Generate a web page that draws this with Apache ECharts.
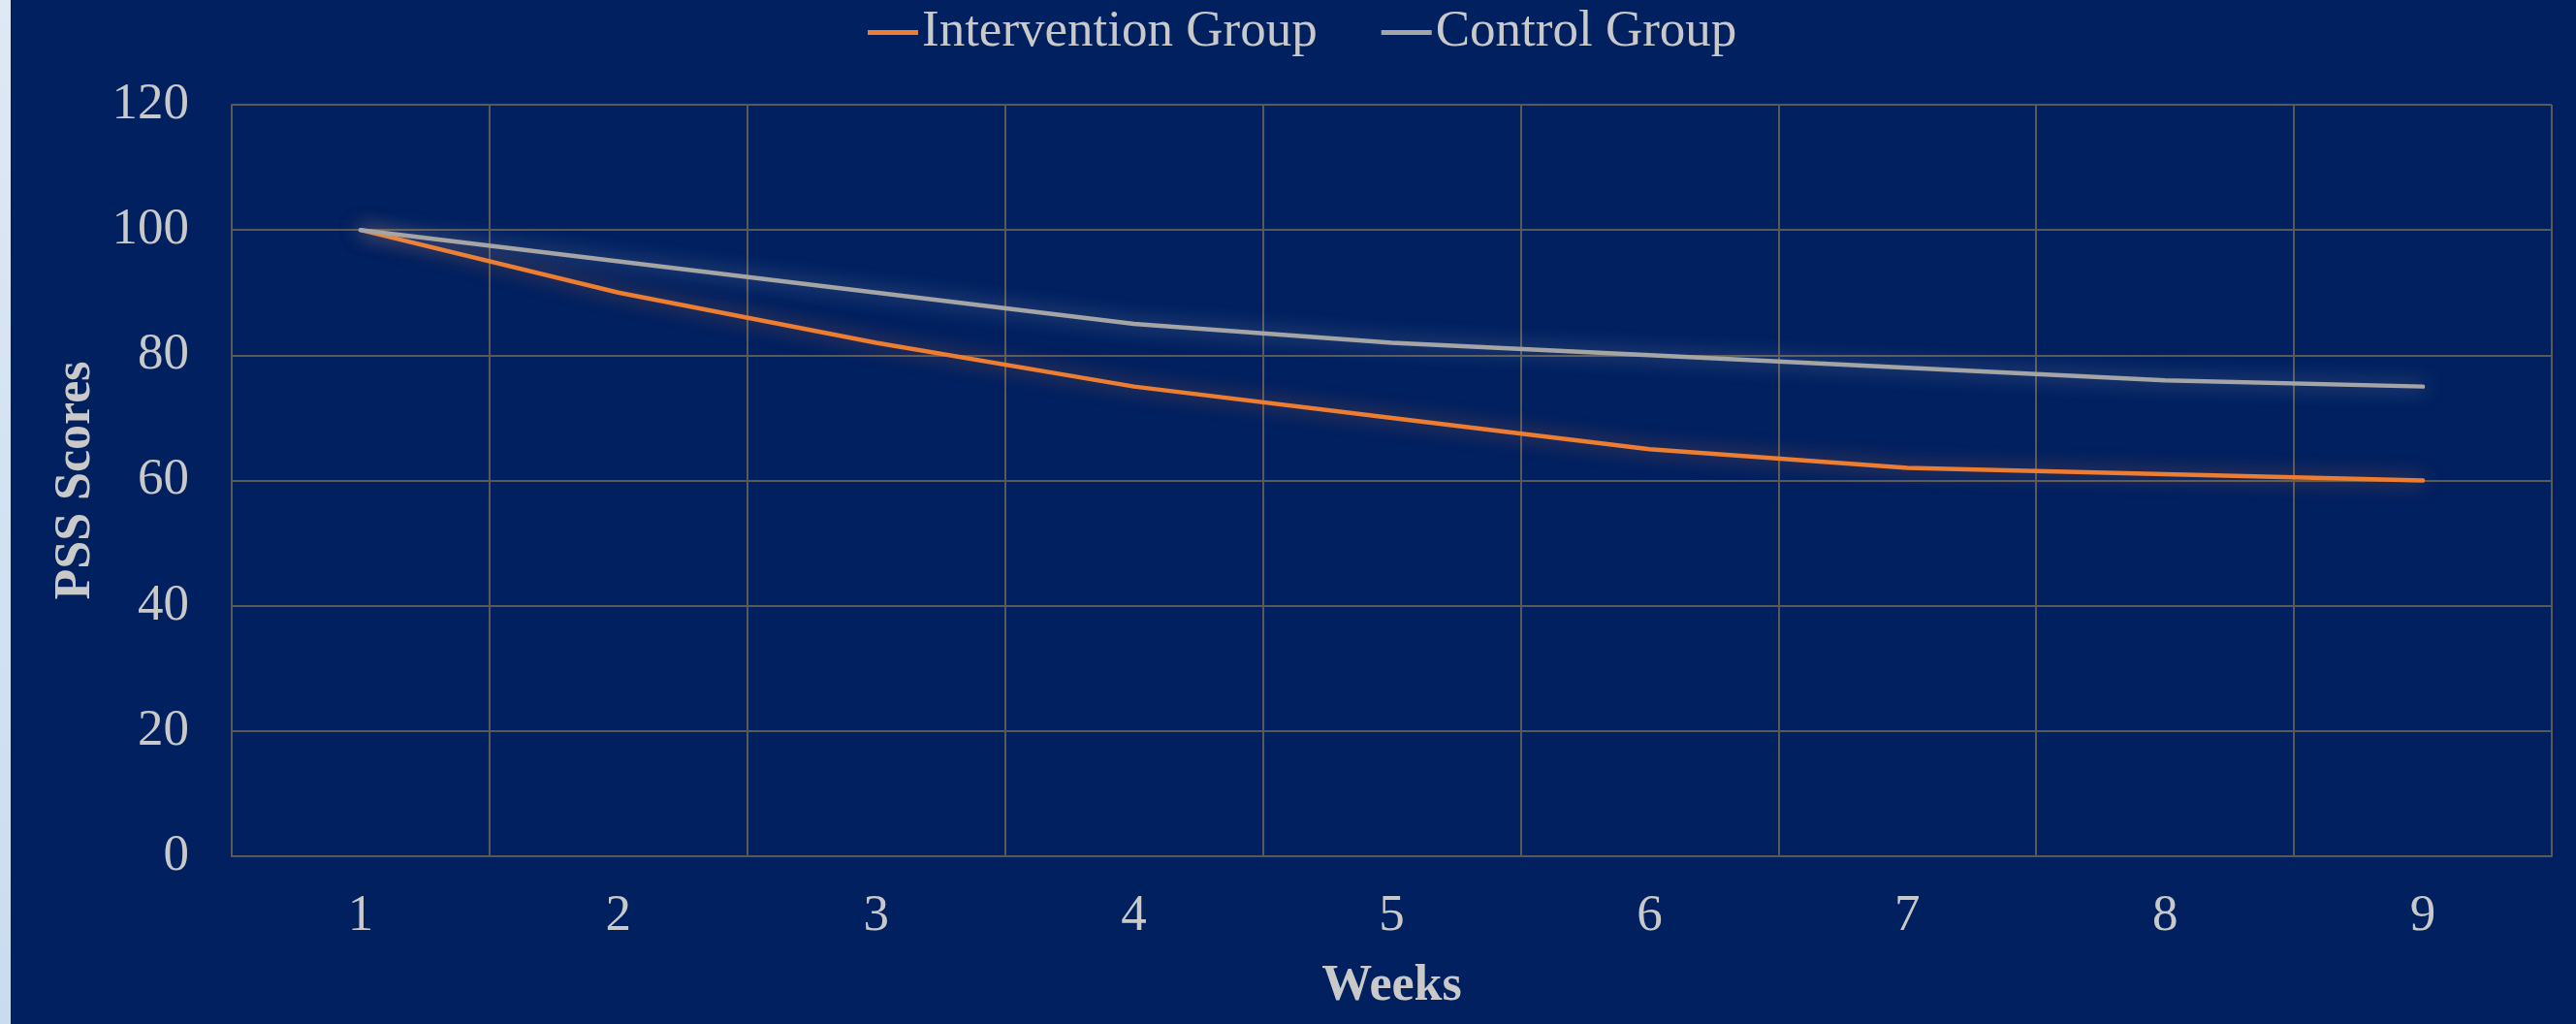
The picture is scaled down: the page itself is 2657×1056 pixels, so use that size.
<!DOCTYPE html>
<html>
<head>
<meta charset="utf-8">
<script src="https://cdn.jsdelivr.net/npm/echarts@6/dist/echarts.min.js"></script>
<style>
html,body{margin:0;padding:0;background:#002060;}
#c{position:absolute;left:0;top:0;width:2657px;height:1056px;}
#strip{position:absolute;left:0;top:0;width:11px;height:1056px;background:linear-gradient(#dde9f5,#c9dcef);z-index:5;}
</style>
</head>
<body>
<div id="c"></div>
<div id="strip"></div>
<script>
const weeks = ['1','2','3','4','5','6','7','8','9'];
const intervention = [100, 90, 82, 75, 70, 65, 62, 61, 60];
const control = [100, 95, 90, 85, 82, 80, 78, 76, 75];
const seriesNames = ['Intervention Group', 'Control Group'];

const font = 'Liberation Serif';
const txt = '#c9c9c9';
const gridColor = '#595959';

const chart = echarts.init(document.getElementById('c'));
chart.setOption({
  backgroundColor: '#002060',
  animation: false,
  color: ['#ED7D31', '#A5A5A5'],
  legend: {
    top: 2,
    left: 890,
    icon: 'rect',
    itemWidth: 52,
    itemHeight: 5,
    itemGap: 66,
    textStyle: {color: txt, fontFamily: font, fontSize: 53, padding: [0,0,0,-1]},
    data: seriesNames
  },
  grid: {left: 239, right: 25, top: 108, bottom: 173},
  xAxis: {
    type: 'category',
    data: weeks,
    boundaryGap: true,
    name: 'Weeks',
    nameLocation: 'middle',
    nameGap: 109,
    nameTextStyle: {color: txt, fontFamily: font, fontSize: 52, fontWeight: 'bold'},
    axisLine: {show: true, lineStyle: {color: gridColor, width: 2}},
    axisTick: {show: false},
    axisLabel: {color: txt, fontFamily: font, fontSize: 53, margin: 36},
    splitLine: {show: true, lineStyle: {color: gridColor, width: 2}}
  },
  yAxis: {
    type: 'value',
    min: 0, max: 120, interval: 20,
    name: 'PSS Scores',
    nameLocation: 'middle',
    nameGap: 132,
    nameTextStyle: {color: txt, fontFamily: font, fontSize: 52, fontWeight: 'bold'},
    axisLine: {show: true, lineStyle: {color: gridColor, width: 2}},
    axisTick: {show: false},
    axisLabel: {color: txt, fontFamily: font, fontSize: 53, margin: 44},
    splitLine: {show: true, lineStyle: {color: gridColor, width: 2}}
  },
  series: [
    {
      name: seriesNames[0], type: 'line', data: intervention, showSymbol: false, symbol: 'none',
      lineStyle: {width: 4.5, color: '#ED7D31', cap: 'round', shadowBlur: 20, shadowColor: 'rgba(237,125,49,0.6)'}
    },
    {
      name: seriesNames[1], type: 'line', data: control, showSymbol: false, symbol: 'none',
      lineStyle: {width: 4.5, color: '#A5A5A5', cap: 'round', shadowBlur: 20, shadowColor: 'rgba(210,210,210,0.5)'}
    }
  ]
});
</script>
</body>
</html>
